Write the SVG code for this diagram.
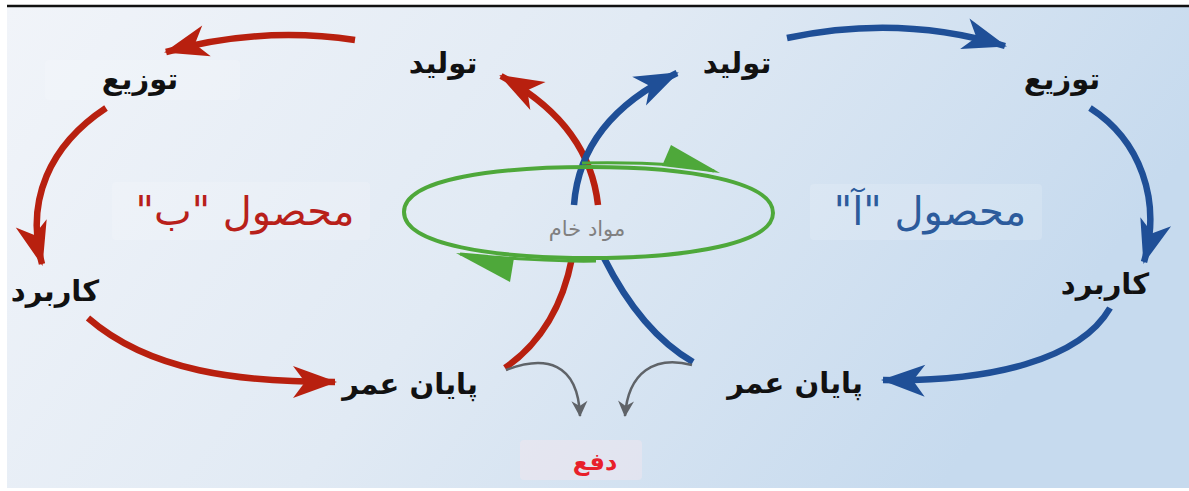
<svg xmlns="http://www.w3.org/2000/svg" width="1189" height="491" viewBox="0 0 1189 491">
<defs>
<linearGradient id="bg" x1="0" y1="0" x2="1" y2="0.3">
<stop offset="0" stop-color="#f1f4f9"/>
<stop offset="0.5" stop-color="#e1eaf4"/>
<stop offset="1" stop-color="#c6daee"/>
</linearGradient>
<marker id="mRed" viewBox="-44 -18 48 36" markerWidth="48" markerHeight="36" refX="0" refY="0" orient="auto" markerUnits="userSpaceOnUse">
<path d="M2,0 L-42,-16 L-30,0 L-42,16 Z" fill="#b8200f"/>
</marker>
<marker id="mBlue" viewBox="-44 -18 48 36" markerWidth="48" markerHeight="36" refX="0" refY="0" orient="auto" markerUnits="userSpaceOnUse">
<path d="M2,0 L-42,-16 L-30,0 L-42,16 Z" fill="#1f4f97"/>
</marker>
<marker id="mGray" viewBox="-16 -9 18 18" markerWidth="18" markerHeight="18" refX="0" refY="0" orient="auto" markerUnits="userSpaceOnUse">
<path d="M1,0 L-15,-8 L-10,0 L-15,8 Z" fill="#5f6368"/>
</marker>
</defs>
<style>
.lbl{font-family:"DejaVu Sans",sans-serif;font-weight:bold;font-size:29px;fill:#111;text-anchor:middle;direction:rtl}
.big{font-family:"DejaVu Sans",sans-serif;font-size:40px;text-anchor:middle;direction:rtl}
.red{fill:none;stroke:#b8200f;stroke-width:6.5;stroke-linecap:butt}
.blue{fill:none;stroke:#1f4f97;stroke-width:6.5;stroke-linecap:butt}
.gray{fill:none;stroke:#5f6368;stroke-width:2.5}
.green{fill:none;stroke:#4ea83a;stroke-width:4}
.pad{fill:#ffffff;opacity:0.15}
</style>
<rect x="0" y="0" width="1189" height="491" fill="#ffffff"/>
<rect x="7" y="7" width="1182" height="481" fill="url(#bg)"/>
<line x1="7" y1="6" x2="1189" y2="6" stroke="#111" stroke-width="2.5"/>
<g id="pads">
<rect class="pad" x="45" y="60" width="195" height="40" rx="4"/>
<rect class="pad" x="112" y="182" width="258" height="58" rx="4"/>
<rect class="pad" x="810" y="184" width="232" height="56" rx="4"/>
<rect x="520" y="440" width="122" height="40" rx="4" fill="#fbe9ee" opacity="0.35"/>
</g>
<g id="connectors">
<path class="red" d="M355,40 Q260,26 166,52" marker-end="url(#mRed)"/>
<path class="red" d="M106,108 C50,145 25,200 42,264" marker-end="url(#mRed)"/>
<path class="red" d="M88,318 C150,372 240,382 335,382" marker-end="url(#mRed)"/>
<path class="red" d="M598,205 C592,150 560,108 501,76" marker-end="url(#mRed)"/>
<path class="red" d="M572,258 C562,310 538,345 505,368"/>
<path class="blue" d="M787,38 Q900,14 1005,46" marker-end="url(#mBlue)"/>
<path class="blue" d="M1090,108 C1140,140 1162,200 1144,262" marker-end="url(#mBlue)"/>
<path class="blue" d="M1110,308 C1080,360 990,382 883,380" marker-end="url(#mBlue)"/>
<path class="blue" d="M574,205 C578,150 610,105 677,73" marker-end="url(#mBlue)"/>
<path class="blue" d="M604,258 C625,300 655,340 693,362"/>
<path class="gray" d="M506,370 C545,355 578,362 580,416" marker-end="url(#mGray)"/>
<path class="gray" d="M692,365 C655,355 628,372 625,416" marker-end="url(#mGray)"/>
</g>
<g id="raw-materials">
<path class="green" d="M404,212 C404,178 500,167 590,167 C690,167 773,182 773,213 C773,243 690,258 590,258 C495,258 404,245 404,212 Z"/>
<path fill="none" stroke="#4ea83a" stroke-width="3" d="M582,163 C640,162 690,165 714,171"/>
<path d="M662,166 L671,145 L720,173 Z" fill="#4ea83a"/>
<path fill="none" stroke="#4ea83a" stroke-width="3" d="M596,261 C560,262 500,258 460,254"/>
<path d="M456,253 L514,258 L510,282 Z" fill="#4ea83a"/>
<text x="587" y="236" font-family="DejaVu Sans,sans-serif" font-size="21" fill="#808080" text-anchor="middle" direction="rtl">مواد خام</text>
</g>
<g id="node-b-production"><text class="lbl" x="443" y="73">تولید</text></g>
<g id="node-b-distribution"><text class="lbl" x="140" y="89">توزیع</text></g>
<g id="node-b-use"><text class="lbl" x="55" y="301">کاربرد</text></g>
<g id="node-b-eol"><text class="lbl" x="410" y="394">پایان عمر</text></g>
<g id="node-a-production"><text class="lbl" x="737" y="73">تولید</text></g>
<g id="node-a-distribution"><text class="lbl" x="1062" y="89">توزیع</text></g>
<g id="node-a-use"><text class="lbl" x="1105" y="294">کاربرد</text></g>
<g id="node-a-eol"><text class="lbl" x="795" y="393">پایان عمر</text></g>
<g id="product-b"><text class="big" x="245" y="225" fill="#b8201a">محصول "ب"</text></g>
<g id="product-a"><text class="big" x="930" y="225" fill="#2c5b9c">محصول "آ"</text></g>
<g id="disposal"><text x="595" y="470" font-family="DejaVu Sans,sans-serif" font-weight="bold" font-size="24" fill="#e8202a" text-anchor="middle" direction="rtl">دفع</text></g>
</svg>
